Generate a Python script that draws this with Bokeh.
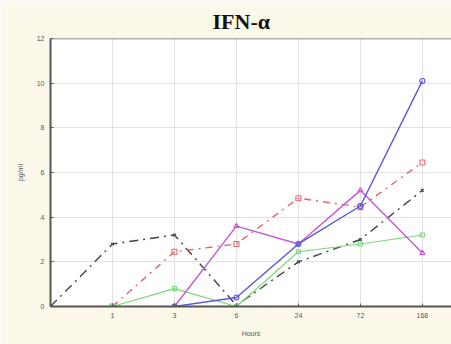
from bokeh.plotting import figure
from bokeh.models import FixedTicker, Range1d, Span
from bokeh.embed import file_html
from bokeh.resources import INLINE

# Sampling times (hours); position 0 is the origin
hours = ["0", "1", "3", "6", "24", "72", "168"]

# IFN-alpha concentration (pg/ml) per group; None = not measured
blue = [None, None, 0.0, 0.4, 2.8, 4.5, 10.1]
red = [None, 0.0, 2.45, 2.8, 4.85, 4.45, 6.45]
green = [None, 0.0, 0.8, 0.0, 2.45, 2.8, 3.2]
magenta = [None, None, 0.0, 3.6, 2.8, 5.2, 2.4]
black = [0.0, 2.8, 3.2, 0.05, 2.0, 3.0, 5.2]

p = figure(width=451, height=344, output_backend="svg", toolbar_location=None,
           x_range=Range1d(0, 6.47), y_range=Range1d(0, 12),
           min_border_left=50, min_border_right=0, min_border_top=38,
           min_border_bottom=38)
p.title.text = "IFN-\u03b1"
p.title.text_font = "Liberation Serif"
p.title.text_font_size = "22px"
p.title.text_font_style = "bold"
p.title.align = "left"
p.title.offset = 162
p.title.text_color = "#111111"

p.background_fill_color = "white"
p.border_fill_color = "#fdf9ea"
p.outline_line_color = None

# top edge of the plotting area
p.add_layout(Span(location=12, dimension="width", line_color="#666666",
                  line_width=1.5))


def pts(vals):
    xs = [i for i, v in enumerate(vals) if v is not None]
    ys = [v for v in vals if v is not None]
    return xs, ys


def series(vals, color, dash, marker, size=5, width=1.3):
    xs, ys = pts(vals)
    p.line(xs, ys, line_color=color, line_width=width, line_dash=dash)
    p.scatter(xs, ys, marker=marker, size=size, line_color=color,
              fill_color="white", fill_alpha=0, line_width=1.1)


series(black, "#444444", "9 5 2 5", "x", size=4, width=1.4)
series(red, "#e06868", "7 5 2 5", "square", size=5, width=1.4)
series(green, "#78d878", "solid", "square", size=4, width=1.1)
series(magenta, "#c658d8", "solid", "triangle", size=5, width=1.4)
series(blue, "#5858d4", "solid", "circle", size=5, width=1.4)

p.xaxis.ticker = FixedTicker(ticks=[1, 2, 3, 4, 5, 6])
p.xaxis.major_label_overrides = {i: hours[i] for i in range(1, 7)}
p.yaxis.ticker = FixedTicker(ticks=[0, 2, 4, 6, 8, 10, 12])
p.xaxis.axis_label = "Hours"
p.yaxis.axis_label = "pg/ml"

for ax in (p.xaxis, p.yaxis):
    ax.axis_line_color = "#555555"
    ax.axis_line_width = 2
    ax.major_tick_in = 3
    ax.major_tick_out = 0
    ax.minor_tick_line_color = None
    ax.major_tick_line_color = "#555555"
    ax.major_label_text_font = "Liberation Sans"
    ax.major_label_text_font_size = "7px"
    ax.major_label_text_color = "#555555"
    ax.axis_label_text_font = "Liberation Sans"
    ax.axis_label_text_font_size = "7px"
    ax.axis_label_text_font_style = "normal"
    ax.axis_label_text_color = "#555555"

p.xaxis.major_label_standoff = 6
p.xaxis.axis_label_standoff = 9
p.yaxis.major_label_standoff = 6
p.yaxis.axis_label_standoff = 10

p.grid.grid_line_color = "#e2e2e6"
p.grid.grid_line_width = 1

open("out.html", "w").write(file_html(p, INLINE))
